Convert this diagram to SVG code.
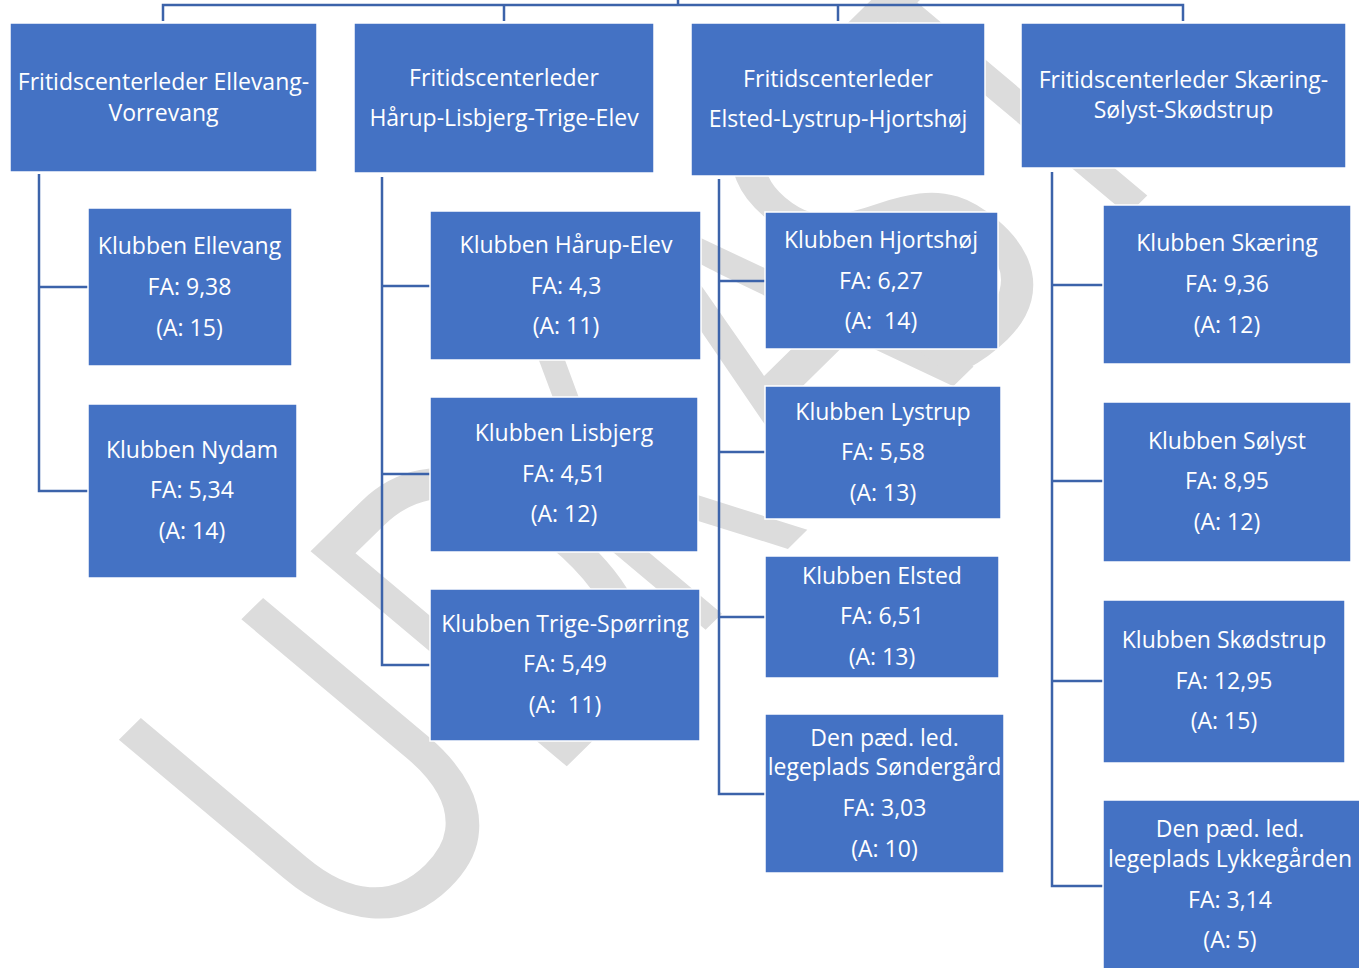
<svg xmlns="http://www.w3.org/2000/svg" width="1359" height="968" viewBox="0 0 1359 968">
<style>
.box{fill:#4472C4;stroke:#ffffff;stroke-width:1.5}
.t{font-family:"Open Sans","Noto Sans","DejaVu Sans",sans-serif;font-size:23px;fill:#ffffff;text-anchor:middle}
.c{fill:none;stroke:#3C63AA;stroke-width:2.5}
.wm{font-family:"Open Sans","Noto Sans",sans-serif;font-size:330px;fill:#dcdcdc;text-anchor:middle}
</style>
<rect width="1359" height="968" fill="#ffffff"/>
<g id="watermark" transform="matrix(0.713,-0.701,0.766,0.643,560,773)">
<text class="wm" transform="translate(-158,0) scale(1.12,1.42)" x="0" y="0">U</text>
<text class="wm" transform="translate(97,0) scale(1,1.42)" x="0" y="0">D</text>
<text class="wm" transform="translate(262,0) scale(0.84,1.42)" x="0" y="0">K</text>
<text class="wm" transform="translate(476,0) scale(1,1.42)" x="0" y="0">A</text>
<text class="wm" transform="translate(632,0) scale(1.02,1.42)" x="0" y="0">S</text>
<text class="wm" transform="translate(810,0) scale(1,1.42)" x="0" y="0">T</text>
</g>
<g id="connectors">
<path class="c" d="M163,21 V5 H1183 V21 M678,5 V0 M504,5 V21 M838,5 V21"/>
<path class="c" d="M39,174 V491 H88 M39,287 H88"/>
<path class="c" d="M382,177 V665 H430 M382,286 H430 M382,474 H430"/>
<path class="c" d="M719,179 V794 H765 M719,281 H765 M719,452 H765 M719,617 H765"/>
<path class="c" d="M1052,172 V886 H1103 M1052,285 H1103 M1052,481 H1103 M1052,681 H1103"/>
</g>
<g id="h1"><rect class="box" x="10" y="23" width="307" height="149"/><text class="t" x="163.5" y="90">Fritidscenterleder Ellevang-</text><text class="t" x="163.5" y="121">Vorrevang</text></g>
<g id="h2"><rect class="box" x="354" y="23" width="300" height="150"/><text class="t" x="504" y="86">Fritidscenterleder</text><text class="t" x="504" y="126">Hårup-Lisbjerg-Trige-Elev</text></g>
<g id="h3"><rect class="box" x="691" y="23" width="294" height="153"/><text class="t" x="838" y="87">Fritidscenterleder</text><text class="t" x="838" y="127">Elsted-Lystrup-Hjortshøj</text></g>
<g id="h4"><rect class="box" x="1021" y="23" width="325" height="145"/><text class="t" x="1183.5" y="88">Fritidscenterleder Skæring-</text><text class="t" x="1183.5" y="118">Sølyst-Skødstrup</text></g>
<g id="ellevang"><rect class="box" x="88" y="208" width="204" height="158"/><text class="t" x="189.5" y="254">Klubben Ellevang</text><text class="t" x="189.5" y="295">FA: 9,38</text><text class="t" x="189.5" y="336">(A: 15)</text></g>
<g id="nydam"><rect class="box" x="88" y="404" width="209" height="174"/><text class="t" x="192" y="458">Klubben Nydam</text><text class="t" x="192" y="498">FA: 5,34</text><text class="t" x="192" y="539">(A: 14)</text></g>
<g id="haarup"><rect class="box" x="430" y="211" width="271" height="149"/><text class="t" x="566" y="253">Klubben Hårup-Elev</text><text class="t" x="566" y="294">FA: 4,3</text><text class="t" x="566" y="334">(A: 11)</text></g>
<g id="lisbjerg"><rect class="box" x="430" y="397" width="268" height="155"/><text class="t" x="564" y="441">Klubben Lisbjerg</text><text class="t" x="564" y="482">FA: 4,51</text><text class="t" x="564" y="522">(A: 12)</text></g>
<g id="trige"><rect class="box" x="430" y="589" width="270" height="152"/><text class="t" x="565" y="632">Klubben Trige-Spørring</text><text class="t" x="565" y="672">FA: 5,49</text><text class="t" x="565" y="713" xml:space="preserve">(A:  11)</text></g>
<g id="hjortshoj"><rect class="box" x="765" y="212" width="233" height="137"/><text class="t" x="881" y="248">Klubben Hjortshøj</text><text class="t" x="881" y="289">FA: 6,27</text><text class="t" x="881" y="329" xml:space="preserve">(A:  14)</text></g>
<g id="lystrup"><rect class="box" x="765" y="386" width="236" height="133"/><text class="t" x="883" y="420">Klubben Lystrup</text><text class="t" x="883" y="460">FA: 5,58</text><text class="t" x="883" y="501">(A: 13)</text></g>
<g id="elsted"><rect class="box" x="765" y="556" width="234" height="122"/><text class="t" x="882" y="584">Klubben Elsted</text><text class="t" x="882" y="624">FA: 6,51</text><text class="t" x="882" y="665">(A: 13)</text></g>
<g id="sondergaard"><rect class="box" x="765" y="714" width="239" height="159"/><text class="t" x="884.5" y="746">Den pæd. led.</text><text class="t" x="884.5" y="775">legeplads Søndergård</text><text class="t" x="884.5" y="816">FA: 3,03</text><text class="t" x="884.5" y="857">(A: 10)</text></g>
<g id="skaering"><rect class="box" x="1103" y="205" width="248" height="159"/><text class="t" x="1227" y="251">Klubben Skæring</text><text class="t" x="1227" y="292">FA: 9,36</text><text class="t" x="1227" y="333">(A: 12)</text></g>
<g id="solyst"><rect class="box" x="1103" y="402" width="248" height="160"/><text class="t" x="1227" y="449">Klubben Sølyst</text><text class="t" x="1227" y="489">FA: 8,95</text><text class="t" x="1227" y="530">(A: 12)</text></g>
<g id="skodstrup"><rect class="box" x="1103" y="600" width="242" height="163"/><text class="t" x="1224" y="648">Klubben Skødstrup</text><text class="t" x="1224" y="689">FA: 12,95</text><text class="t" x="1224" y="729">(A: 15)</text></g>
<g id="lykkegaarden"><rect class="box" x="1103" y="800" width="258" height="172"/><text class="t" x="1230" y="837">Den pæd. led.</text><text class="t" x="1230" y="867">legeplads Lykkegården</text><text class="t" x="1230" y="908">FA: 3,14</text><text class="t" x="1230" y="948">(A: 5)</text></g>
</svg>
